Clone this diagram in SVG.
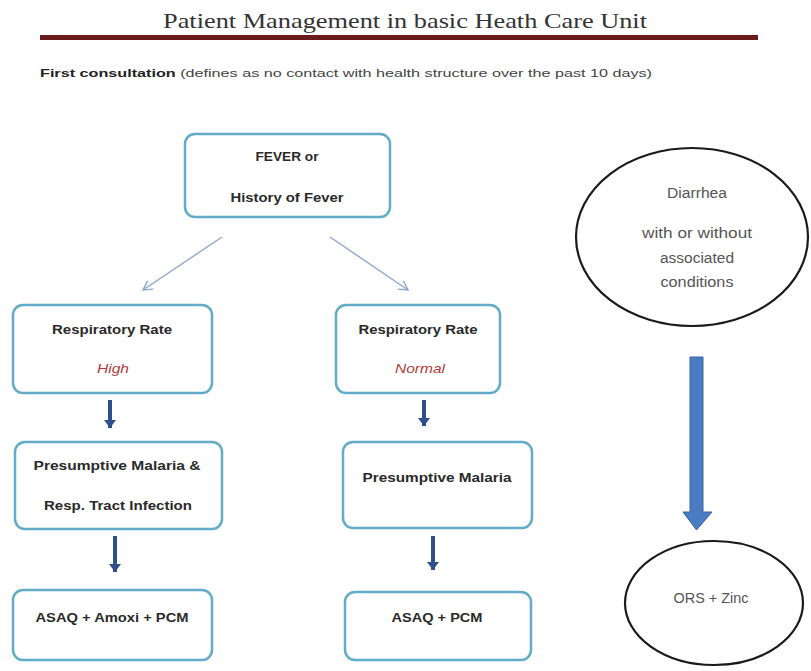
<svg xmlns="http://www.w3.org/2000/svg" width="811" height="671" viewBox="0 0 811 671">
<defs>
<marker id="thin" markerWidth="12" markerHeight="12" refX="10" refY="6" orient="auto" markerUnits="userSpaceOnUse">
<path d="M1,1 L10,6 L1,11" fill="none" stroke="#8ea6d2" stroke-width="1.4"/>
</marker>
<marker id="thick" markerWidth="12" markerHeight="10" refX="6" refY="9" orient="0" markerUnits="userSpaceOnUse">
<path d="M0,1 L12,1 L6,9 Z" fill="#2f4f8c"/>
</marker>
</defs>
<style>
.box{fill:#fff;stroke:#62acc8;stroke-width:2.5}
.ell{fill:#fff;stroke:#1a1a1a;stroke-width:2.2}
.t{font-family:"Liberation Sans",Arial,sans-serif;font-size:13.5px;font-weight:bold;fill:#2a2a2a;text-anchor:middle}
.r{font-family:"Liberation Sans",Arial,sans-serif;font-size:13.5px;font-style:italic;fill:#b03a3a;text-anchor:middle}
.e{font-family:"Liberation Sans",Arial,sans-serif;font-size:14px;fill:#555;text-anchor:middle}
.thin{stroke:#8ea6d2;stroke-width:1.4;fill:none}
.thick{stroke:#2f4f8c;stroke-width:4;fill:none}
</style>
<rect width="811" height="671" fill="#fff"/>
<text x="405" y="28" font-family="'Liberation Serif','Times New Roman',serif" font-size="21" fill="#333" text-anchor="middle" textLength="484" lengthAdjust="spacingAndGlyphs">Patient Management in basic Heath Care Unit</text>
<rect x="40" y="35" width="718" height="5" fill="#6a1c1c"/>
<text x="40" y="77" font-family="'Liberation Sans',Arial,sans-serif" font-size="10.5" fill="#444" textLength="612" lengthAdjust="spacingAndGlyphs"><tspan font-weight="bold" fill="#222">First consultation</tspan> (defines as no contact with health structure over the past 10 days)</text>

<g id="connectors">
<line class="thin" x1="222" y1="237" x2="143" y2="290" marker-end="url(#thin)"/>
<line class="thin" x1="330" y1="237" x2="408" y2="290" marker-end="url(#thin)"/>
<line class="thick" x1="110" y1="400" x2="110" y2="428" marker-end="url(#thick)"/>
<line class="thick" x1="115" y1="536" x2="115" y2="572" marker-end="url(#thick)"/>
<line class="thick" x1="424" y1="400" x2="424" y2="426" marker-end="url(#thick)"/>
<line class="thick" x1="433" y1="536" x2="433" y2="570" marker-end="url(#thick)"/>
<path d="M690,357 L703,357 L703,512 L712,512 L696.5,530 L683,512 L690,512 Z" fill="#4a7cc2" stroke="#3a64a4" stroke-width="1"/>
</g>

<g id="fever">
<rect class="box" x="185" y="134" width="205" height="83" rx="10"/>
<text class="t" x="287" y="161" textLength="63" lengthAdjust="spacingAndGlyphs">FEVER or</text>
<text class="t" x="287" y="202" textLength="113" lengthAdjust="spacingAndGlyphs">History of Fever</text>
</g>
<g id="rr-high">
<rect class="box" x="13" y="305" width="199" height="88" rx="10"/>
<text class="t" x="112" y="334" textLength="120" lengthAdjust="spacingAndGlyphs">Respiratory Rate</text>
<text class="r" x="113" y="373" textLength="32" lengthAdjust="spacingAndGlyphs">High</text>
</g>
<g id="malaria-rti">
<rect class="box" x="15" y="442" width="207" height="87" rx="10"/>
<text class="t" x="117" y="470" textLength="167" lengthAdjust="spacingAndGlyphs">Presumptive Malaria &amp;</text>
<text class="t" x="118" y="510" textLength="148" lengthAdjust="spacingAndGlyphs">Resp. Tract Infection</text>
</g>
<g id="asaq-amoxi">
<rect class="box" x="13" y="590" width="199" height="70" rx="10"/>
<text class="t" x="112" y="622" textLength="153" lengthAdjust="spacingAndGlyphs">ASAQ + Amoxi + PCM</text>
</g>
<g id="rr-normal">
<rect class="box" x="336" y="305" width="164" height="88" rx="10"/>
<text class="t" x="418" y="334" textLength="119" lengthAdjust="spacingAndGlyphs">Respiratory Rate</text>
<text class="r" x="420" y="373" textLength="50" lengthAdjust="spacingAndGlyphs">Normal</text>
</g>
<g id="malaria">
<rect class="box" x="343" y="442" width="189" height="86" rx="10"/>
<text class="t" x="437" y="482" textLength="149" lengthAdjust="spacingAndGlyphs">Presumptive Malaria</text>
</g>
<g id="asaq-pcm">
<rect class="box" x="345" y="592" width="186" height="68" rx="10"/>
<text class="t" x="437" y="622" textLength="91" lengthAdjust="spacingAndGlyphs">ASAQ + PCM</text>
</g>
<g id="diarrhea">
<ellipse class="ell" cx="692" cy="237" rx="116" ry="89"/>
<text class="e" x="697" y="198" textLength="60" lengthAdjust="spacingAndGlyphs">Diarrhea</text>
<text class="e" x="697" y="238" textLength="110" lengthAdjust="spacingAndGlyphs">with or without</text>
<text class="e" x="697" y="263" textLength="74" lengthAdjust="spacingAndGlyphs">associated</text>
<text class="e" x="697" y="287" textLength="73" lengthAdjust="spacingAndGlyphs">conditions</text>
</g>
<g id="ors">
<ellipse class="ell" cx="714" cy="603" rx="89" ry="62"/>
<text class="e" x="711" y="603" textLength="75" lengthAdjust="spacingAndGlyphs">ORS + Zinc</text>
</g>
</svg>
